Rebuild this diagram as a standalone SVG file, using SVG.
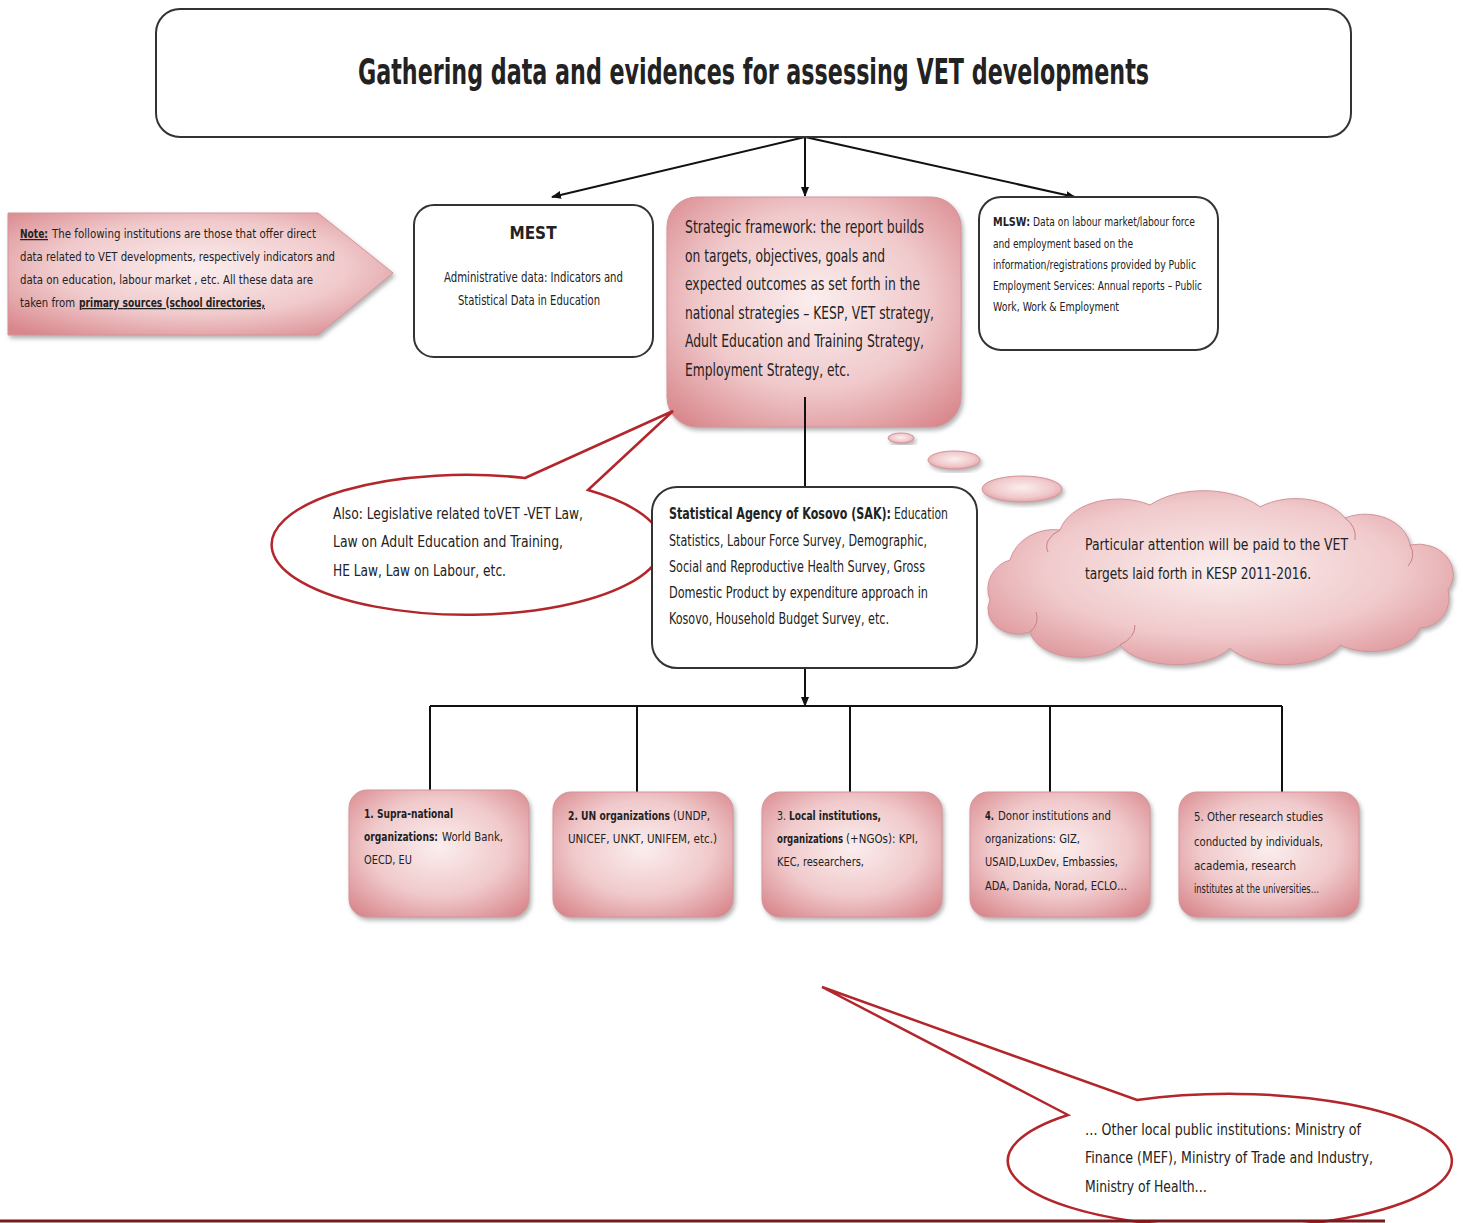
<svg xmlns="http://www.w3.org/2000/svg" width="1463" height="1223" viewBox="0 0 1463 1223">
<defs>
<style>
text{font-family:"Liberation Sans Narrow","DejaVu Sans Condensed","Liberation Sans",sans-serif;fill:#222;}
.b{font-weight:bold;}
.u{text-decoration:underline;}
.box{fill:#fff;stroke:#333;stroke-width:2;}
.pink{fill:url(#pg);stroke:#d39499;stroke-width:1;filter:url(#sh);}
.call{fill:#fff;stroke:#b3262b;stroke-width:2.5;stroke-linejoin:miter;}
.con{stroke:#111;stroke-width:2;fill:none;}
</style>
<radialGradient id="pg" cx="50%" cy="45%" r="70%">
<stop offset="0" stop-color="#fbeeee"/>
<stop offset="0.55" stop-color="#f0c9cb"/>
<stop offset="1" stop-color="#d8868b"/>
</radialGradient>
<filter id="sh" x="-10%" y="-10%" width="125%" height="130%">
<feDropShadow dx="2" dy="3" stdDeviation="2" flood-color="#777" flood-opacity="0.55"/>
</filter>
<marker id="ah" markerWidth="10" markerHeight="10" refX="9" refY="5" orient="auto" markerUnits="userSpaceOnUse">
<path d="M0,1 L10,5 L0,9 Z" fill="#111"/>
</marker>
</defs>

<g id="connectors">
<line class="con" x1="805" y1="137" x2="552" y2="197" marker-end="url(#ah)"/>
<line class="con" x1="805" y1="137" x2="805" y2="196" marker-end="url(#ah)"/>
<line class="con" x1="805" y1="137" x2="1075" y2="197" marker-end="url(#ah)"/>
<line class="con" x1="805" y1="668" x2="805" y2="706" marker-end="url(#ah)"/>
<line class="con" x1="430" y1="706" x2="1282" y2="706" stroke-width="2.5"/>
<line class="con" x1="430" y1="706" x2="430" y2="790"/>
<line class="con" x1="637" y1="706" x2="637" y2="792"/>
<line class="con" x1="850" y1="706" x2="850" y2="792"/>
<line class="con" x1="1050" y1="706" x2="1050" y2="792"/>
<line class="con" x1="1282" y1="706" x2="1282" y2="792"/>
</g>

<g id="title">
<rect class="box" x="156" y="9" width="1195" height="128" rx="24"/>
<text x="753.5" y="84" font-size="36" class="b" text-anchor="middle" textLength="791" lengthAdjust="spacingAndGlyphs">Gathering data and evidences for assessing VET developments</text>
</g>

<g id="note">
<path d="M8,213 L318,213 L393,273 L318,335 L8,335 Z" class="pink"/>
<text x="20" y="238" font-size="12.5" class="b u" textLength="28" lengthAdjust="spacingAndGlyphs">Note:</text>
<text x="52" y="238" font-size="12.5" textLength="264" lengthAdjust="spacingAndGlyphs">The following institutions are those that offer direct</text>
<text font-size="12.5">
<tspan x="20" y="261" textLength="315" lengthAdjust="spacingAndGlyphs">data related to VET developments, respectively indicators and</tspan>
<tspan x="20" y="284" textLength="293" lengthAdjust="spacingAndGlyphs">data on education, labour market , etc.  All these data are</tspan>
</text>
<text x="20" y="307" font-size="12.5" textLength="55" lengthAdjust="spacingAndGlyphs">taken from</text>
<text x="79" y="307" font-size="12.5" class="b u" textLength="186" lengthAdjust="spacingAndGlyphs">primary sources (school directories,</text>
</g>

<g id="mest">
<rect class="box" x="414" y="205" width="239" height="152" rx="20"/>
<text x="533" y="239" font-size="17" class="b" text-anchor="middle">MEST</text>
<text font-size="14">
<tspan x="444" y="282" textLength="179" lengthAdjust="spacingAndGlyphs">Administrative data: Indicators and</tspan>
<tspan x="458" y="305" textLength="142" lengthAdjust="spacingAndGlyphs">Statistical Data in Education</tspan>
</text>
</g>

<g id="strategic">
<rect class="pink" x="667" y="197" width="294" height="230" rx="30"/>
<text font-size="17">
<tspan x="685" y="233" textLength="239" lengthAdjust="spacingAndGlyphs">Strategic framework: the report builds</tspan>
<tspan x="685" y="262" textLength="200" lengthAdjust="spacingAndGlyphs">on targets, objectives, goals and</tspan>
<tspan x="685" y="290" textLength="235" lengthAdjust="spacingAndGlyphs">expected outcomes as set forth in the</tspan>
<tspan x="685" y="319" textLength="249" lengthAdjust="spacingAndGlyphs">national strategies – KESP, VET strategy,</tspan>
<tspan x="685" y="347" textLength="239" lengthAdjust="spacingAndGlyphs">Adult Education and Training Strategy,</tspan>
<tspan x="685" y="376" textLength="165" lengthAdjust="spacingAndGlyphs">Employment Strategy, etc.</tspan>
</text>
<line class="con" x1="805" y1="397" x2="805" y2="487"/>
</g>

<g id="mlsw">
<rect class="box" x="979" y="197" width="239" height="153" rx="22"/>
<text x="993" y="226" font-size="12.5" class="b" textLength="37" lengthAdjust="spacingAndGlyphs">MLSW:</text>
<text x="1033" y="226" font-size="12.5" textLength="162" lengthAdjust="spacingAndGlyphs">Data on labour market/labour force</text>
<text font-size="12.5">
<tspan x="993" y="248" textLength="140" lengthAdjust="spacingAndGlyphs">and employment based on the</tspan>
<tspan x="993" y="269" textLength="203" lengthAdjust="spacingAndGlyphs">information/registrations provided by Public</tspan>
<tspan x="993" y="290" textLength="209" lengthAdjust="spacingAndGlyphs">Employment Services: Annual reports – Public</tspan>
<tspan x="993" y="311" textLength="126" lengthAdjust="spacingAndGlyphs">Work, Work &amp; Employment</tspan>
</text>
</g>

<g id="legislation-callout">
<path class="call" d="M525,478 L673,411 L588,490 A195,70 0 1 1 525,478 Z"/>
<text font-size="16">
<tspan x="333" y="519" textLength="250" lengthAdjust="spacingAndGlyphs">Also: Legislative related toVET -VET Law,</tspan>
<tspan x="333" y="547" textLength="230" lengthAdjust="spacingAndGlyphs">Law on Adult Education and Training,</tspan>
<tspan x="333" y="576" textLength="173" lengthAdjust="spacingAndGlyphs">HE Law, Law on Labour, etc.</tspan>
</text>
</g>

<g id="thought-cloud">
<ellipse class="pink" cx="901" cy="438" rx="13" ry="5"/>
<ellipse class="pink" cx="954" cy="460" rx="26" ry="9"/>
<ellipse class="pink" cx="1022" cy="489" rx="40" ry="13"/>
<path class="pink" d="M990,600 A30,30 0 0 1 1010,560 A45,40 0 0 1 1060,530 A60,40 0 0 1 1150,505 A70,40 0 0 1 1260,507 A55,35 0 0 1 1345,518 A45,35 0 0 1 1410,545 A35,30 0 0 1 1448,590 A30,30 0 0 1 1420,628 A50,30 0 0 1 1340,645 A60,30 0 0 1 1230,648 A60,30 0 0 1 1120,645 A50,30 0 0 1 1030,632 A30,25 0 0 1 990,600 Z"/>
<path d="M1060,530 A40,22 0 0 0 1048,552 M1345,518 A30,25 0 0 1 1355,540 M1410,545 A25,20 0 0 1 1408,566 M1120,645 A40,25 0 0 0 1135,625 M1030,632 A25,20 0 0 0 1036,612" fill="none" stroke="#c98086" stroke-width="1"/>
<text font-size="16">
<tspan x="1085" y="550" textLength="263" lengthAdjust="spacingAndGlyphs">Particular attention will be paid to the VET</tspan>
<tspan x="1085" y="579" textLength="226" lengthAdjust="spacingAndGlyphs">targets laid forth in KESP 2011-2016.</tspan>
</text>
</g>

<g id="sak">
<rect class="box" x="652" y="487" width="325" height="181" rx="25"/>
<text x="669" y="519" font-size="15" class="b" textLength="222" lengthAdjust="spacingAndGlyphs">Statistical Agency of Kosovo (SAK):</text>
<text x="894" y="519" font-size="15" textLength="54" lengthAdjust="spacingAndGlyphs">Education</text>
<text font-size="15">
<tspan x="669" y="546" textLength="258" lengthAdjust="spacingAndGlyphs">Statistics, Labour Force Survey, Demographic,</tspan>
<tspan x="669" y="572" textLength="256" lengthAdjust="spacingAndGlyphs">Social and Reproductive Health Survey, Gross</tspan>
<tspan x="669" y="598" textLength="259" lengthAdjust="spacingAndGlyphs">Domestic Product by expenditure approach in</tspan>
<tspan x="669" y="624" textLength="220" lengthAdjust="spacingAndGlyphs">Kosovo, Household Budget Survey, etc.</tspan>
</text>
</g>

<g id="box1">
<rect class="pink" x="349" y="790" width="180" height="127" rx="18"/>
<text x="364" y="818" font-size="13" class="b" textLength="89" lengthAdjust="spacingAndGlyphs">1. Supra-national</text>
<text x="364" y="841" font-size="13" class="b" textLength="74" lengthAdjust="spacingAndGlyphs">organizations:</text>
<text x="442" y="841" font-size="13" textLength="61" lengthAdjust="spacingAndGlyphs">World Bank,</text>
<text x="364" y="864" font-size="13" textLength="48" lengthAdjust="spacingAndGlyphs">OECD, EU</text>
</g>

<g id="box2">
<rect class="pink" x="553" y="792" width="180" height="125" rx="18"/>
<text x="568" y="820" font-size="13" class="b" textLength="102" lengthAdjust="spacingAndGlyphs">2. UN organizations</text>
<text x="673" y="820" font-size="13" textLength="37" lengthAdjust="spacingAndGlyphs">(UNDP,</text>
<text x="568" y="843" font-size="13" textLength="149" lengthAdjust="spacingAndGlyphs">UNICEF, UNKT, UNIFEM, etc.)</text>
</g>

<g id="box3">
<rect class="pink" x="762" y="792" width="180" height="125" rx="18"/>
<text x="777" y="820" font-size="13" textLength="9" lengthAdjust="spacingAndGlyphs">3.</text>
<text x="789" y="820" font-size="13" class="b" textLength="92" lengthAdjust="spacingAndGlyphs">Local institutions,</text>
<text x="777" y="843" font-size="13" class="b" textLength="66" lengthAdjust="spacingAndGlyphs">organizations</text>
<text x="846" y="843" font-size="13" textLength="72" lengthAdjust="spacingAndGlyphs">(+NGOs): KPI,</text>
<text x="777" y="866" font-size="13" textLength="87" lengthAdjust="spacingAndGlyphs">KEC, researchers,</text>
</g>

<g id="box4">
<rect class="pink" x="970" y="792" width="180" height="125" rx="18"/>
<text x="985" y="820" font-size="13" class="b" textLength="9" lengthAdjust="spacingAndGlyphs">4.</text>
<text x="998" y="820" font-size="13" textLength="113" lengthAdjust="spacingAndGlyphs">Donor institutions and</text>
<text font-size="13">
<tspan x="985" y="843" textLength="95" lengthAdjust="spacingAndGlyphs">organizations: GIZ,</tspan>
<tspan x="985" y="866" textLength="133" lengthAdjust="spacingAndGlyphs">USAID,LuxDev, Embassies,</tspan>
<tspan x="985" y="890" textLength="142" lengthAdjust="spacingAndGlyphs">ADA, Danida, Norad, ECLO…</tspan>
</text>
</g>

<g id="box5">
<rect class="pink" x="1179" y="792" width="180" height="125" rx="18"/>
<text font-size="13">
<tspan x="1194" y="821" textLength="129" lengthAdjust="spacingAndGlyphs">5. Other research studies</tspan>
<tspan x="1194" y="846" textLength="129" lengthAdjust="spacingAndGlyphs">conducted by individuals,</tspan>
<tspan x="1194" y="870" textLength="102" lengthAdjust="spacingAndGlyphs">academia,  research</tspan>
<tspan x="1194" y="893" textLength="125" lengthAdjust="spacingAndGlyphs">institutes at the universities…</tspan>
</text>
</g>

<g id="other-institutions-callout">
<path class="call" d="M1068,1115 L822,987 L1137,1100 A222,67 0 1 1 1068,1115 Z"/>
<text font-size="16">
<tspan x="1085" y="1135" textLength="276" lengthAdjust="spacingAndGlyphs">… Other local public institutions:  Ministry of</tspan>
<tspan x="1085" y="1163" textLength="288" lengthAdjust="spacingAndGlyphs">Finance (MEF), Ministry of Trade and Industry,</tspan>
<tspan x="1085" y="1192" textLength="122" lengthAdjust="spacingAndGlyphs">Ministry of Health…</tspan>
</text>
</g>

<line x1="0" y1="1221" x2="1385" y2="1221" stroke="#7a1a1a" stroke-width="3"/>
</svg>
